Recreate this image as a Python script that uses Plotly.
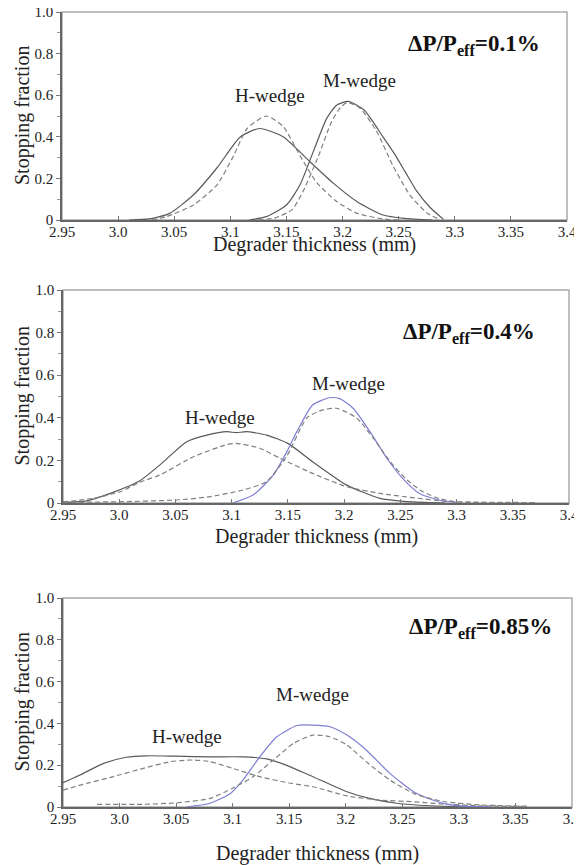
import plotly.graph_objects as go

# ---------------- data ----------------
# Panel 1: dP/Peff = 0.1 %
p1_h_solid_x = [3.010, 3.028, 3.046, 3.067, 3.088, 3.109, 3.126, 3.147, 3.171, 3.192, 3.213, 3.236, 3.255, 3.280]
p1_h_solid_y = [0.000, 0.005, 0.032, 0.120, 0.250, 0.400, 0.440, 0.400, 0.280, 0.176, 0.088, 0.024, 0.008, 0.000]
p1_h_dash_x = [3.030, 3.043, 3.067, 3.088, 3.103, 3.115, 3.132, 3.147, 3.162, 3.177, 3.195, 3.213, 3.236, 3.250]
p1_h_dash_y = [0.000, 0.016, 0.072, 0.168, 0.310, 0.440, 0.500, 0.450, 0.310, 0.180, 0.088, 0.032, 0.005, 0.000]
p1_m_solid_x = [3.117, 3.132, 3.150, 3.162, 3.174, 3.186, 3.195, 3.205, 3.219, 3.236, 3.246, 3.256, 3.266, 3.278, 3.290]
p1_m_solid_y = [0.000, 0.016, 0.072, 0.168, 0.330, 0.490, 0.553, 0.570, 0.530, 0.400, 0.320, 0.230, 0.140, 0.060, 0.003]
p1_m_dash_x = [3.125, 3.140, 3.155, 3.165, 3.178, 3.190, 3.198, 3.204, 3.215, 3.230, 3.245, 3.260, 3.275, 3.287]
p1_m_dash_y = [0.000, 0.010, 0.050, 0.140, 0.300, 0.470, 0.540, 0.565, 0.540, 0.430, 0.260, 0.120, 0.035, 0.000]

# Panel 2: dP/Peff = 0.4 %
p2_h_solid_x = [2.950, 2.971, 2.992, 3.018, 3.036, 3.060, 3.078, 3.096, 3.104, 3.113, 3.131, 3.150, 3.172, 3.202, 3.232, 3.261, 3.290]
p2_h_solid_y = [0.003, 0.010, 0.045, 0.103, 0.178, 0.288, 0.319, 0.335, 0.330, 0.335, 0.319, 0.280, 0.194, 0.085, 0.022, 0.005, 0.000]
p2_h_dash_x = [2.950, 2.977, 3.001, 3.018, 3.036, 3.066, 3.096, 3.104, 3.125, 3.143, 3.172, 3.202, 3.232, 3.261, 3.291, 3.320, 3.370]
p2_h_dash_y = [0.005, 0.022, 0.053, 0.097, 0.131, 0.217, 0.275, 0.280, 0.257, 0.210, 0.139, 0.077, 0.045, 0.025, 0.008, 0.004, 0.002]
p2_m_solid_x = [3.101, 3.119, 3.137, 3.150, 3.158, 3.172, 3.187, 3.196, 3.208, 3.223, 3.238, 3.252, 3.267, 3.285, 3.300]
p2_m_solid_y = [0.000, 0.037, 0.131, 0.250, 0.335, 0.460, 0.494, 0.490, 0.445, 0.335, 0.210, 0.116, 0.045, 0.013, 0.003]
p2_m_dash_x = [2.950, 3.000, 3.051, 3.081, 3.110, 3.131, 3.149, 3.167, 3.181, 3.193, 3.211, 3.226, 3.241, 3.256, 3.270, 3.285, 3.300, 3.370]
p2_m_dash_y = [0.003, 0.006, 0.014, 0.030, 0.061, 0.100, 0.220, 0.400, 0.437, 0.445, 0.400, 0.304, 0.194, 0.108, 0.053, 0.020, 0.005, 0.002]

# Panel 3: dP/Peff = 0.85 %
p3_h_solid_x = [2.950, 2.965, 2.986, 3.006, 3.024, 3.050, 3.080, 3.109, 3.130, 3.145, 3.171, 3.201, 3.221, 3.245, 3.275, 3.310]
p3_h_solid_y = [0.116, 0.153, 0.209, 0.238, 0.245, 0.243, 0.240, 0.240, 0.230, 0.205, 0.145, 0.073, 0.041, 0.018, 0.006, 0.000]
p3_h_dash_x = [2.950, 2.971, 2.992, 3.021, 3.045, 3.065, 3.080, 3.100, 3.124, 3.150, 3.171, 3.201, 3.230, 3.260, 3.289, 3.318, 3.360]
p3_h_dash_y = [0.081, 0.113, 0.142, 0.185, 0.217, 0.225, 0.217, 0.185, 0.145, 0.115, 0.097, 0.053, 0.033, 0.025, 0.013, 0.006, 0.002]
p3_m_solid_x = [3.059, 3.080, 3.098, 3.109, 3.124, 3.139, 3.157, 3.171, 3.186, 3.201, 3.218, 3.239, 3.260, 3.275, 3.289, 3.305, 3.330]
p3_m_solid_y = [0.000, 0.018, 0.065, 0.129, 0.240, 0.336, 0.390, 0.392, 0.384, 0.344, 0.273, 0.161, 0.073, 0.037, 0.014, 0.004, 0.000]
p3_m_dash_x = [2.980, 3.021, 3.050, 3.080, 3.100, 3.118, 3.136, 3.154, 3.171, 3.186, 3.201, 3.218, 3.239, 3.260, 3.275, 3.289, 3.318, 3.360]
p3_m_dash_y = [0.013, 0.013, 0.020, 0.041, 0.090, 0.145, 0.225, 0.305, 0.344, 0.336, 0.297, 0.217, 0.129, 0.065, 0.040, 0.024, 0.010, 0.004]

panel_labels = ["ΔP/P<sub>eff</sub>=0.1%", "ΔP/P<sub>eff</sub>=0.4%", "ΔP/P<sub>eff</sub>=0.85%"]
label_pos = [(3.317, 0.84), (3.311, 0.80), (3.319, 0.856)]
h_label_pos = [(3.135, 0.60), (3.090, 0.40), (3.060, 0.335)]
m_label_pos = [(3.2155, 0.673), (3.204, 0.563), (3.171, 0.536)]

x_tick_vals = [2.95, 3.0, 3.05, 3.1, 3.15, 3.2, 3.25, 3.3, 3.35, 3.4]
x_tick_text = ["2.95", "3.0", "3.05", "3.1", "3.15", "3.2", "3.25", "3.3", "3.35", "3.4"]
y_tick_vals = [0, 0.2, 0.4, 0.6, 0.8, 1.0]
y_tick_text = ["0", "0.2", "0.4", "0.6", "0.8", "1.0"]

# ---------------- styling ----------------
OFF = 8                      # default page (body) margin of the html page
W, H = 582 - OFF, 865 - OFF
GRAY = "#5a5a5a"
DASH_GRAY = "#808080"
BLUE = "#7e7ed2"
FONT = "Liberation Serif"

# target page-pixel boxes of the plot areas: (left, right, top, bottom)
boxes = [(62, 567, 12, 220), (63, 569, 290, 503), (63, 572, 598, 807)]
xtitle_y = [244, 536, 853]


def px(v):
    return (v - OFF) / W


def py(v):
    return 1 - (v - OFF) / H


fig = go.Figure()

panels = [
    [(p1_h_solid_x, p1_h_solid_y, GRAY, "solid"), (p1_h_dash_x, p1_h_dash_y, DASH_GRAY, "dash"),
     (p1_m_solid_x, p1_m_solid_y, GRAY, "solid"), (p1_m_dash_x, p1_m_dash_y, DASH_GRAY, "dash")],
    [(p2_h_solid_x, p2_h_solid_y, GRAY, "solid"), (p2_h_dash_x, p2_h_dash_y, DASH_GRAY, "dash"),
     (p2_m_solid_x, p2_m_solid_y, BLUE, "solid"), (p2_m_dash_x, p2_m_dash_y, DASH_GRAY, "dash")],
    [(p3_h_solid_x, p3_h_solid_y, GRAY, "solid"), (p3_h_dash_x, p3_h_dash_y, DASH_GRAY, "dash"),
     (p3_m_solid_x, p3_m_solid_y, BLUE, "solid"), (p3_m_dash_x, p3_m_dash_y, DASH_GRAY, "dash")],
]

annotations = []
shapes = []
layout_axes = {}
for i, (traces, box) in enumerate(zip(panels, boxes)):
    n = "" if i == 0 else str(i + 1)
    xa, ya = "x" + n, "y" + n
    for xs, ys, col, dash in traces:
        fig.add_trace(go.Scatter(
            x=xs, y=ys, mode="lines", xaxis=xa, yaxis=ya, showlegend=False,
            line=dict(color=col, width=1.2, dash="5px,3px" if dash == "dash" else "solid",
                      shape="spline", smoothing=0.6),
            hoverinfo="skip"))
    l, r, t, b = box
    layout_axes["xaxis" + n] = dict(
        domain=[px(l), px(r)], anchor=ya, range=[2.95, 3.4], automargin=False,
        tickmode="array", tickvals=x_tick_vals, ticktext=x_tick_text,
        ticks="inside", ticklen=4, tickcolor="#777", showgrid=False, zeroline=False,
        showline=True, linecolor="#666", linewidth=1.5, ticklabelstandoff=-3,
        ticklabeloverflow="allow",
        tickfont=dict(family=FONT, size=15, color="#222"))
    layout_axes["yaxis" + n] = dict(
        domain=[py(b), py(t)], anchor=xa, range=[0, 1.0], automargin=False,
        tickmode="array", tickvals=y_tick_vals, ticktext=y_tick_text,
        ticks="outside", ticklen=4, tickcolor="#777", showgrid=False, zeroline=False,
        showline=True, linecolor="#666", linewidth=1.5, ticklabeloverflow="allow",
        minor=dict(tickvals=[0.1, 0.3, 0.5, 0.7, 0.9], ticks="outside", ticklen=3, tickcolor="#999"),
        tickfont=dict(family=FONT, size=15, color="#222"))
    # light frame on top/right
    shapes.append(dict(type="rect", xref=xa + " domain", yref=ya + " domain",
                       x0=0, x1=1, y0=0, y1=1, line=dict(color="#aaaaaa", width=1.5), layer="below"))
    # panel labels
    lx, ly = label_pos[i]
    annotations.append(dict(x=lx, y=ly, xref=xa, yref=ya, text="<b>" + panel_labels[i] + "</b>",
                            xanchor="center", yanchor="middle",
                            showarrow=False, font=dict(family=FONT, size=23, color="#111")))
    hx, hy = h_label_pos[i]
    annotations.append(dict(x=hx, y=hy, xref=xa, yref=ya, text="H-wedge", showarrow=False,
                            xanchor="center", yanchor="middle",
                            font=dict(family=FONT, size=19, color="#222")))
    mx, my = m_label_pos[i]
    annotations.append(dict(x=mx, y=my, xref=xa, yref=ya, text="M-wedge", showarrow=False,
                            xanchor="center", yanchor="middle",
                            font=dict(family=FONT, size=19, color="#222")))
    # axis titles
    annotations.append(dict(x=px((l + r) / 2), y=py(xtitle_y[i]), xref="paper", yref="paper",
                            text="Degrader thickness (mm)", showarrow=False,
                            xanchor="center", yanchor="middle",
                            font=dict(family=FONT, size=20, color="#222")))
    annotations.append(dict(x=px(22), y=py((t + b) / 2), xref="paper", yref="paper",
                            text="Stopping fraction", showarrow=False, textangle=-90,
                            xanchor="center", yanchor="middle",
                            font=dict(family=FONT, size=20, color="#222")))

fig.update_layout(
    width=W, height=H, margin=dict(l=0, r=0, t=0, b=0, autoexpand=False),
    font=dict(family=FONT, size=15, color="#222"),
    paper_bgcolor="white", plot_bgcolor="white",
    annotations=annotations, shapes=shapes, **layout_axes)

fig.write_html("out.html")
